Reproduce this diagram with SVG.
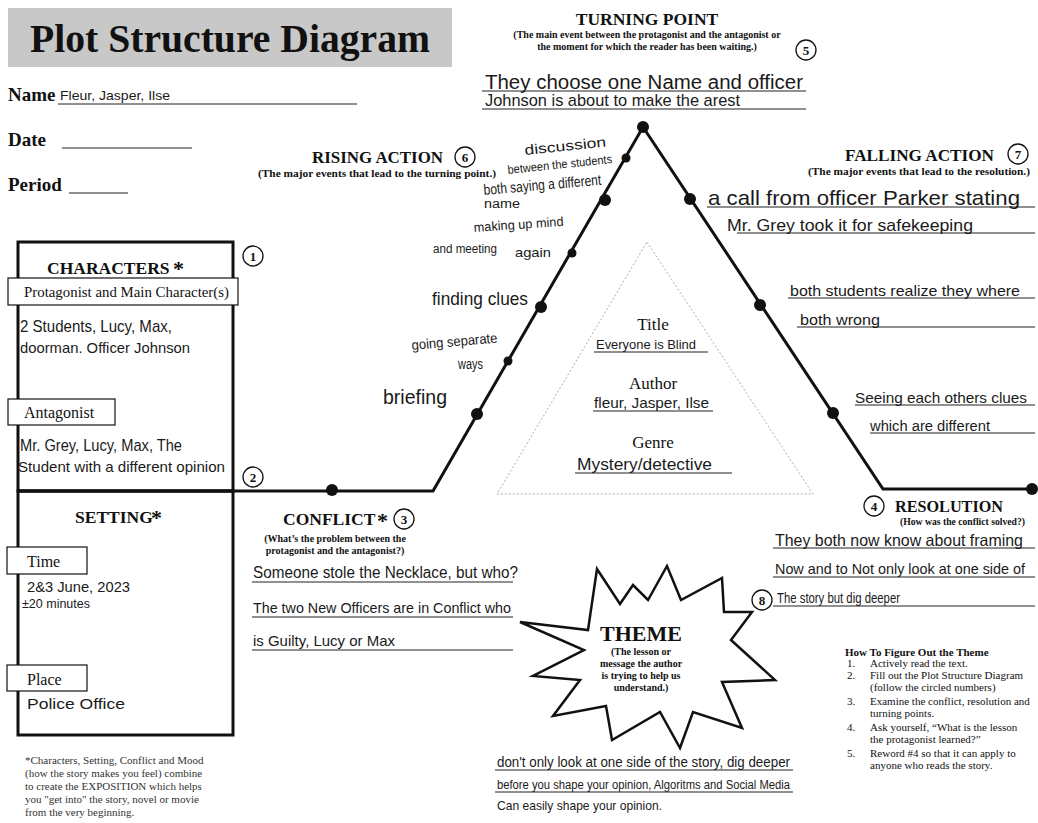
<svg xmlns="http://www.w3.org/2000/svg" width="1038" height="823" viewBox="0 0 1038 823">
  <style>
    .serif { font-family: "Liberation Serif", "Times New Roman", serif; fill: #111; }
    .b { font-weight: bold; }
    .head { font-family: "Liberation Serif", serif; font-weight: bold; font-size: 17.5px; fill: #111; }
    .sub { font-family: "Liberation Serif", serif; font-weight: bold; font-size: 10px; fill: #111; }
    .hw { font-family: "Liberation Sans Narrow", "Liberation Sans", sans-serif; fill: #1a1a1a; }
    .ul { stroke: #222; stroke-width: 1.2; fill: none; }
    .num circle { fill: #fff; stroke: #111; stroke-width: 1.3; }
    .num text { font-family: "Liberation Serif", serif; font-weight: bold; font-size: 13px; fill: #111; text-anchor: middle; }
    .box { fill: #fff; stroke: #111; stroke-width: 1.2; }
    .frame { fill: none; stroke: #111; stroke-width: 3; }
    .dot { fill: #111; }
    .note { font-family: "Liberation Serif", serif; font-size: 11px; fill: #333; }
  </style>
  <rect width="1038" height="823" fill="#fff"/>

  <!-- header -->
  <g id="header">
    <rect x="8" y="8" width="444" height="59" fill="#c8c8c8"/>
    <text x="230" y="52" class="serif b" font-size="39" text-anchor="middle" textLength="400" lengthAdjust="spacingAndGlyphs">Plot Structure Diagram</text>
    <text x="8" y="101" class="serif b" font-size="19">Name</text>
    <line x1="58" y1="104" x2="357" y2="104" class="ul"/>
    <text x="60" y="100" class="hw" font-size="13" textLength="110" lengthAdjust="spacingAndGlyphs">Fleur, Jasper, Ilse</text>
    <text x="8" y="146" class="serif b" font-size="19">Date</text>
    <line x1="62" y1="148" x2="192" y2="148" class="ul"/>
    <text x="8" y="191" class="serif b" font-size="19">Period</text>
    <line x1="69" y1="193" x2="128" y2="193" class="ul"/>
  </g>

  <!-- plot line with event dots -->
  <g id="connectors">
    <polyline class="frame" points="18,491 433,491 643,127 883,489 1033,489"/>
    <circle class="dot" cx="332" cy="490" r="6"/>
    <circle class="dot" cx="643" cy="127" r="6"/>
    <circle class="dot" cx="626" cy="158" r="4.5"/>
    <circle class="dot" cx="605" cy="200" r="6"/>
    <circle class="dot" cx="572" cy="253" r="4.5"/>
    <circle class="dot" cx="541" cy="307" r="6"/>
    <circle class="dot" cx="508" cy="361" r="4.5"/>
    <circle class="dot" cx="477" cy="414" r="6"/>
    <circle class="dot" cx="690" cy="199" r="6"/>
    <circle class="dot" cx="760" cy="305" r="6"/>
    <circle class="dot" cx="833" cy="413" r="6"/>
    <circle class="dot" cx="1032" cy="489" r="6"/>
  </g>

  <!-- exposition: characters and setting -->
  <g id="characters">
    <rect x="18" y="242" width="215" height="249" fill="none" stroke="#111" stroke-width="3"/>
    <text x="47" y="274" class="head">CHARACTERS</text>
    <text x="173" y="276" class="serif b" font-size="22">*</text>
    <rect x="8" y="278" width="230" height="27" class="box"/>
    <text x="24" y="297" class="serif" font-size="14" textLength="205" lengthAdjust="spacingAndGlyphs">Protagonist and Main Character(s)</text>
    <text x="20" y="332" class="hw" font-size="17" textLength="152" lengthAdjust="spacingAndGlyphs">2 Students, Lucy, Max,</text>
    <text x="20" y="353" class="hw" font-size="15" textLength="170" lengthAdjust="spacingAndGlyphs">doorman. Officer Johnson</text>
    <rect x="8" y="399" width="107" height="26" class="box"/>
    <text x="24" y="418" class="serif" font-size="16">Antagonist</text>
    <text x="20" y="451" class="hw" font-size="17" textLength="162" lengthAdjust="spacingAndGlyphs">Mr. Grey, Lucy, Max, The</text>
    <text x="18" y="472" class="hw" font-size="15" textLength="207" lengthAdjust="spacingAndGlyphs">Student with a different opinion</text>
    <g class="num"><circle cx="253" cy="256" r="10"/><text x="253" y="261">1</text></g>
    <g class="num"><circle cx="253" cy="477" r="10"/><text x="253" y="482">2</text></g>
  </g>

  <g id="setting">
    <rect x="18" y="491" width="215" height="244" fill="none" stroke="#111" stroke-width="3"/>
    <text x="75" y="523" class="head" font-size="17">SETTING</text>
    <text x="151" y="525" class="serif b" font-size="22">*</text>
    <rect x="7" y="547" width="80" height="27" class="box"/>
    <text x="27" y="567" class="serif" font-size="16">Time</text>
    <text x="27" y="592" class="hw" font-size="14" textLength="103" lengthAdjust="spacingAndGlyphs">2&amp;3 June, 2023</text>
    <text x="22" y="608" class="hw" font-size="13" textLength="68" lengthAdjust="spacingAndGlyphs">±20 minutes</text>
    <rect x="7" y="665" width="80" height="26" class="box"/>
    <text x="27" y="685" class="serif" font-size="16">Place</text>
    <text x="27" y="709" class="hw" font-size="15" textLength="98" lengthAdjust="spacingAndGlyphs">Police Office</text>
  </g>

  <g id="exposition-note">
    <text class="note">
      <tspan x="25" y="764">*Characters, Setting, Conflict and Mood</tspan>
      <tspan x="25" y="777">(how the story makes you feel) combine</tspan>
      <tspan x="25" y="790">to create the EXPOSITION which helps</tspan>
      <tspan x="25" y="803">you "get into" the story, novel or movie</tspan>
      <tspan x="25" y="816">from the very beginning.</tspan>
    </text>
  </g>

  <!-- conflict -->
  <g id="conflict">
    <text x="283" y="525" class="head" font-size="18">CONFLICT</text>
    <text x="377" y="528" class="serif b" font-size="22">*</text>
    <g class="num"><circle cx="404" cy="519" r="10"/><text x="404" y="524">3</text></g>
    <text x="335" y="542" class="sub" text-anchor="middle">(What’s the problem between the</text>
    <text x="335" y="554" class="sub" text-anchor="middle">protagonist and the antagonist?)</text>
    <line x1="252" y1="582" x2="513" y2="582" class="ul"/>
    <line x1="252" y1="617" x2="513" y2="617" class="ul"/>
    <line x1="252" y1="650" x2="513" y2="650" class="ul"/>
    <text x="253" y="578" class="hw" font-size="16" textLength="265" lengthAdjust="spacingAndGlyphs">Someone stole the Necklace, but who?</text>
    <text x="253" y="613" class="hw" font-size="15" textLength="258" lengthAdjust="spacingAndGlyphs">The two New Officers are in Conflict who</text>
    <text x="253" y="646" class="hw" font-size="15" textLength="142" lengthAdjust="spacingAndGlyphs">is Guilty, Lucy or Max</text>
  </g>

  <!-- rising action -->
  <g id="rising-action">
    <text x="312" y="163" class="head" textLength="131" lengthAdjust="spacingAndGlyphs">RISING ACTION</text>
    <g class="num"><circle cx="465" cy="157" r="10"/><text x="465" y="162">6</text></g>
    <text x="258" y="177" class="sub" textLength="238" lengthAdjust="spacingAndGlyphs">(The major events that lead to the turning point.)</text>
    <text x="525" y="155" class="hw" font-size="14" textLength="82" lengthAdjust="spacingAndGlyphs" transform="rotate(-6 525 155)">discussion</text>
    <text x="508" y="174" class="hw" font-size="12" textLength="105" lengthAdjust="spacingAndGlyphs" transform="rotate(-6 508 174)">between the students</text>
    <text x="484" y="195" class="hw" font-size="15" textLength="118" lengthAdjust="spacingAndGlyphs" transform="rotate(-5 484 195)">both saying a different</text>
    <text x="484" y="208" class="hw" font-size="12" textLength="36" lengthAdjust="spacingAndGlyphs">name</text>
    <text x="474" y="232" class="hw" font-size="13" textLength="90" lengthAdjust="spacingAndGlyphs" transform="rotate(-4 474 232)">making up mind</text>
    <text x="433" y="253" class="hw" font-size="12" textLength="64" lengthAdjust="spacingAndGlyphs">and meeting</text>
    <text x="515" y="257" class="hw" font-size="13" textLength="36" lengthAdjust="spacingAndGlyphs">again</text>
    <text x="432" y="305" class="hw" font-size="19" textLength="96" lengthAdjust="spacingAndGlyphs">finding clues</text>
    <text x="412" y="350" class="hw" font-size="14" textLength="86" lengthAdjust="spacingAndGlyphs" transform="rotate(-5 412 350)">going separate</text>
    <text x="458" y="369" class="hw" font-size="14" textLength="25" lengthAdjust="spacingAndGlyphs">ways</text>
    <text x="383" y="404" class="hw" font-size="21" textLength="64" lengthAdjust="spacingAndGlyphs">briefing</text>
  </g>

  <!-- turning point -->
  <g id="turning-point">
    <text x="647" y="25" class="head" text-anchor="middle">TURNING POINT</text>
    <text x="647" y="38" class="sub" text-anchor="middle">(The main event between the protagonist and the antagonist or</text>
    <text x="647" y="50" class="sub" text-anchor="middle">the moment for which the reader has been waiting.)</text>
    <g class="num"><circle cx="806" cy="50" r="10"/><text x="806" y="55">5</text></g>
    <line x1="482" y1="91" x2="806" y2="91" class="ul"/>
    <line x1="482" y1="109" x2="806" y2="109" class="ul"/>
    <text x="485" y="89" class="hw" font-size="20" textLength="318" lengthAdjust="spacingAndGlyphs">They choose one Name and officer</text>
    <text x="485" y="106" class="hw" font-size="17" textLength="255" lengthAdjust="spacingAndGlyphs">Johnson is about to make the arest</text>
  </g>

  <!-- falling action -->
  <g id="falling-action">
    <text x="845" y="161" class="head" textLength="149" lengthAdjust="spacingAndGlyphs">FALLING ACTION</text>
    <g class="num"><circle cx="1018" cy="154" r="10"/><text x="1018" y="159">7</text></g>
    <text x="808" y="175" class="sub" textLength="222" lengthAdjust="spacingAndGlyphs">(The major events that lead to the resolution.)</text>
    <line x1="707" y1="207" x2="1035" y2="207" class="ul"/>
    <line x1="737" y1="233" x2="1035" y2="233" class="ul"/>
    <line x1="788" y1="298" x2="1035" y2="298" class="ul"/>
    <line x1="797" y1="327" x2="1035" y2="327" class="ul"/>
    <line x1="855" y1="405" x2="1035" y2="405" class="ul"/>
    <line x1="870" y1="433" x2="1035" y2="433" class="ul"/>
    <text x="708" y="205" class="hw" font-size="21" textLength="312" lengthAdjust="spacingAndGlyphs">a call from officer Parker stating</text>
    <text x="727" y="231" class="hw" font-size="17" textLength="246" lengthAdjust="spacingAndGlyphs">Mr. Grey took it for safekeeping</text>
    <text x="790" y="296" class="hw" font-size="15" textLength="230" lengthAdjust="spacingAndGlyphs">both students realize they where</text>
    <text x="800" y="325" class="hw" font-size="14" textLength="80" lengthAdjust="spacingAndGlyphs">both wrong</text>
    <text x="855" y="403" class="hw" font-size="15" textLength="172" lengthAdjust="spacingAndGlyphs">Seeing each others clues</text>
    <text x="870" y="431" class="hw" font-size="14" textLength="120" lengthAdjust="spacingAndGlyphs">which are different</text>
  </g>

  <!-- story details -->
  <g id="story-details">
    <polygon points="647,242 813,494 497,494" fill="none" stroke="#999" stroke-width="0.8" stroke-dasharray="2,2"/>
    <text x="653" y="330" class="serif" font-size="17" text-anchor="middle">Title</text>
    <line x1="594" y1="352" x2="708" y2="352" class="ul"/>
    <text x="596" y="349" class="hw" font-size="13" textLength="100" lengthAdjust="spacingAndGlyphs">Everyone is Blind</text>
    <text x="653" y="389" class="serif" font-size="17" text-anchor="middle">Author</text>
    <line x1="593" y1="411" x2="713" y2="411" class="ul"/>
    <text x="594" y="408" class="hw" font-size="15" textLength="115" lengthAdjust="spacingAndGlyphs">fleur, Jasper, Ilse</text>
    <text x="653" y="448" class="serif" font-size="17" text-anchor="middle">Genre</text>
    <line x1="575" y1="473" x2="732" y2="473" class="ul" stroke-width="1.6"/>
    <text x="577" y="470" class="hw" font-size="16" textLength="135" lengthAdjust="spacingAndGlyphs">Mystery/detective</text>
  </g>

  <!-- resolution -->
  <g id="resolution">
    <g class="num"><circle cx="874" cy="506" r="10"/><text x="874" y="511">4</text></g>
    <text x="895" y="512" class="head" textLength="108" lengthAdjust="spacingAndGlyphs">RESOLUTION</text>
    <text x="900" y="525" class="sub" textLength="125" lengthAdjust="spacingAndGlyphs">(How was the conflict solved?)</text>
    <line x1="773" y1="548" x2="1035" y2="548" class="ul"/>
    <line x1="773" y1="577" x2="1035" y2="577" class="ul"/>
    <line x1="773" y1="606" x2="1035" y2="606" class="ul"/>
    <text x="775" y="546" class="hw" font-size="16.5" textLength="248" lengthAdjust="spacingAndGlyphs">They both now know about framing</text>
    <text x="775" y="574" class="hw" font-size="15" textLength="250" lengthAdjust="spacingAndGlyphs">Now and to Not only look at one side of</text>
    <text x="777" y="603" class="hw" font-size="15" textLength="123" lengthAdjust="spacingAndGlyphs">The story but dig deeper</text>
  </g>

  <!-- theme -->
  <g id="theme">
    <polygon points="520,622 588,630 597,569 620,604 633,585 648,600 667,566 681,600 722,578 724,612 752,612 731,640 775,680 722,682 742,728 693,712 680,748 660,712 612,740 606,706 553,716 580,680 533,676 584,650" fill="#fff" stroke="#111" stroke-width="2.5" stroke-linejoin="miter"/>
    <g class="num"><circle cx="762" cy="600" r="10"/><text x="762" y="605">8</text></g>
    <text x="641" y="641" class="serif b" font-size="22" text-anchor="middle">THEME</text>
    <text x="641" y="655" class="sub" text-anchor="middle">(The lesson or</text>
    <text x="641" y="667" class="sub" text-anchor="middle">message the author</text>
    <text x="641" y="679" class="sub" text-anchor="middle">is trying to help us</text>
    <text x="641" y="691" class="sub" text-anchor="middle">understand.)</text>
    <line x1="495" y1="770" x2="793" y2="770" class="ul"/>
    <line x1="495" y1="792" x2="793" y2="792" class="ul"/>
    <text x="497" y="767" class="hw" font-size="14" textLength="293" lengthAdjust="spacingAndGlyphs">don't only look at one side of the story, dig deeper</text>
    <text x="497" y="789" class="hw" font-size="12" textLength="293" lengthAdjust="spacingAndGlyphs">before you shape your opinion, Algoritms and Social Media</text>
    <text x="497" y="810" class="hw" font-size="13" textLength="165" lengthAdjust="spacingAndGlyphs">Can easily shape your opinion.</text>
  </g>

  <!-- steps for finding the theme -->
  <g id="theme-steps">
    <text x="845" y="656" class="serif b" font-size="11">How To Figure Out the Theme</text>
    <g class="serif" font-size="11" fill="#333">
      <text x="847" y="667">1.</text><text x="870" y="667">Actively read the text.</text>
      <text x="847" y="679">2.</text><text x="870" y="679">Fill out the Plot Structure Diagram</text>
      <text x="870" y="691">(follow the circled numbers)</text>
      <text x="847" y="705">3.</text><text x="870" y="705">Examine the conflict, resolution and</text>
      <text x="870" y="717">turning points.</text>
      <text x="847" y="731">4.</text><text x="870" y="731">Ask yourself, “What is the lesson</text>
      <text x="870" y="743">the protagonist learned?”</text>
      <text x="847" y="757">5.</text><text x="870" y="757">Reword #4 so that it can apply to</text>
      <text x="870" y="769">anyone who reads the story.</text>
    </g>
  </g>
</svg>
